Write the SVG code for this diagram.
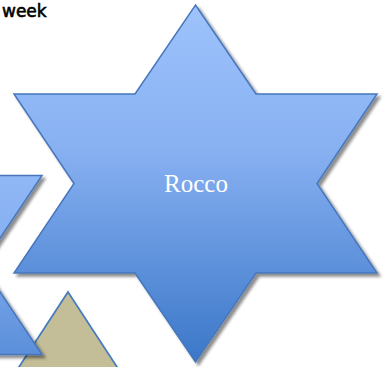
<svg xmlns="http://www.w3.org/2000/svg" width="389" height="367" viewBox="0 0 389 367">
  <defs>
    <linearGradient id="blueGrad" x1="0" y1="0" x2="0" y2="1">
      <stop offset="0" stop-color="#9EC3FC"/>
      <stop offset="0.4" stop-color="#88B1F2"/>
      <stop offset="1" stop-color="#3B77C8"/>
    </linearGradient>
    <filter id="shadow" x="-10%" y="-10%" width="125%" height="125%">
      <feDropShadow dx="3" dy="3" stdDeviation="1.8" flood-color="#000" flood-opacity="0.45"/>
    </filter>
    <path id="star" d="M195.5,5 L256,94 L377,94 L317,183.5 L377,273 L256,273 L195.5,362 L135,273 L14,273 L74,183.5 L14,94 L135,94 Z"/>
  </defs>
  <style>
    .star { fill: url(#blueGrad); stroke: #4676BC; stroke-width: 1.5; stroke-linejoin: miter; filter: url(#shadow); }
    .tri { fill: #C4BE98; stroke: #4A7EBB; stroke-width: 1.8; }
    .label { font-family: "Liberation Serif", "Times New Roman", serif; font-size: 25px; fill: #FFFFFF; }
    .title { font-family: "DejaVu Sans", "Liberation Sans", sans-serif; font-size: 17px; fill: #000000; stroke: #000000; stroke-width: 0.6; }
  </style>
  <rect width="389" height="367" fill="#FFFFFF"/>
  <g id="title">
    <text class="title" x="2" y="17">week</text>
  </g>
  <g id="triangle">
    <path class="tri" d="M68,292 L138.6,400 L-2.6,400 Z"/>
  </g>
  <g id="star-left">
    <use href="#star" class="star" transform="translate(-335,81.5)"/>
  </g>
  <g id="star-rocco">
    <use href="#star" class="star"/>
    <text class="label" x="196" y="192" text-anchor="middle">Rocco</text>
  </g>
</svg>
